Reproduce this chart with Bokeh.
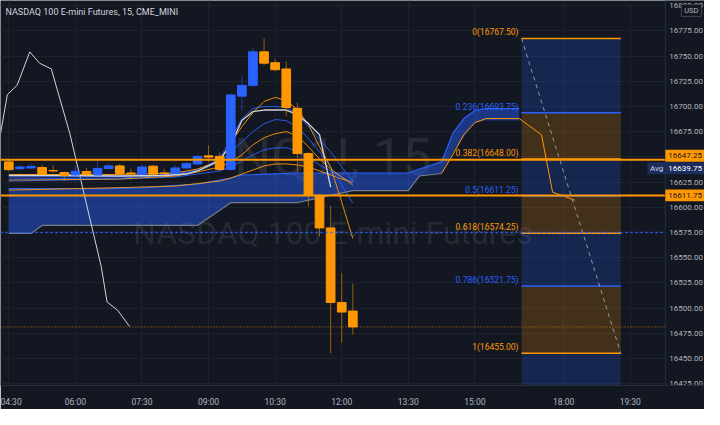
from bokeh.plotting import figure
from bokeh.models import FixedTicker, Label, Range1d, ColumnDataSource
from bokeh.embed import file_html
from bokeh.resources import INLINE
from bokeh.core.properties import value

# ---------------- data ----------------
time_tick_idx = [0, 6, 12, 18, 24, 30, 36, 42, 50, 56]
time_tick_labels = ["04:30", "06:00", "07:30", "09:00", "10:30", "12:00", "13:30", "15:00", "18:00", "19:30"]
price_ticks = [16425, 16450, 16475, 16500, 16525, 16550, 16575, 16600, 16625, 16650,
               16675, 16700, 16725, 16750, 16775, 16800]

bar_idx = list(range(32))
opens = [16645.0, 16638.25, 16639.0, 16639.5, 16636.5, 16634.5, 16632.0, 16635.5, 16632.0, 16638.5,
         16641.0, 16634.0, 16632.75, 16640.75, 16634.0, 16633.75, 16639.0, 16643.0, 16651.0, 16650.5,
         16637.5, 16710.25, 16721.0, 16754.25, 16743.5, 16737.25, 16698.25, 16653.25, 16611.75, 16579.5,
         16505.5, 16497.0]
highs = [16646.5, 16642.0, 16643.25, 16642.25, 16641.75, 16635.5, 16641.0, 16639.25, 16645.75, 16643.0,
         16643.0, 16638.25, 16642.25, 16642.0, 16638.25, 16642.0, 16645.0, 16652.0, 16661.5, 16654.25,
         16713.0, 16730.5, 16758.0, 16767.5, 16747.0, 16744.5, 16704.0, 16655.0, 16613.0, 16601.5,
         16534.75, 16524.25]
lows = [16636.5, 16637.0, 16638.0, 16632.0, 16633.75, 16626.0, 16631.0, 16631.0, 16631.0, 16637.5,
        16632.0, 16627.75, 16632.0, 16631.0, 16630.75, 16633.0, 16638.0, 16642.0, 16645.0, 16635.5,
        16636.0, 16695.75, 16720.0, 16741.0, 16735.0, 16690.5, 16635.5, 16600.75, 16571.25, 16455.0,
        16465.5, 16473.5]
closes = [16637.25, 16640.0, 16640.5, 16632.75, 16636.0, 16631.5, 16635.75, 16632.25, 16638.5, 16641.0,
          16633.5, 16633.25, 16640.0, 16632.75, 16633.25, 16639.0, 16643.25, 16650.5, 16649.75, 16637.5,
          16711.5, 16721.0, 16754.25, 16743.0, 16736.5, 16699.0, 16653.25, 16611.75, 16579.5, 16505.5,
          16496.0, 16481.25]

ma_idx = [0, 10, 15, 17, 19, 20, 21, 22, 23, 24, 25, 26, 27, 28, 29, 30, 31]
orange_fast = [16632.5, 16632.5, 16634, 16638, 16646, 16664, 16680, 16694, 16705, 16709, 16706, 16697, 16682, 16660, 16640, 16605, 16569]
blue_fast = [16630, 16630.5, 16633, 16637, 16648, 16668, 16688, 16698, 16700, 16700, 16699, 16692, 16680, 16667, 16655, 16640, 16626]
blue_mid = [16628, 16629, 16632, 16636, 16645, 16655, 16665, 16675, 16683, 16687, 16686, 16680, 16668, 16655, 16640, 16622, 16604]
orange_mid = [16627, 16628, 16631, 16635, 16640, 16645, 16652, 16662, 16669, 16673, 16675, 16671, 16660, 16648, 16638, 16630, 16622]
blue_slow = [16626, 16628, 16630, 16633, 16636, 16640, 16646, 16652, 16657, 16659, 16659, 16656, 16649, 16642, 16636, 16630, 16624]
orange_slow = [16617, 16619.5, 16621, 16623.5, 16626, 16629, 16633, 16637, 16641, 16643, 16643, 16642, 16640, 16636, 16632, 16628, 16625]

white_idx = [0, 5, 10, 14, 16, 17, 18, 19, 20, 21, 22, 23, 24, 25, 26, 27, 28, 29]
white_ma = [16631.5, 16631.5, 16631, 16631.5, 16633, 16636, 16641, 16647, 16662, 16686, 16695, 16696.5, 16696.5, 16696.5, 16692, 16683, 16672, 16620]

osc_idx = [-0.75, -0.13, 0.75, 1.89, 2.78, 3.83, 5.5, 8.33, 8.85, 9.82, 10.88]
osc_val = [16673.1, 16711.8, 16721.2, 16754.2, 16742.9, 16737.3, 16673.1, 16541.0, 16506.1, 16497.6, 16481.6]

band_idx = [0, 2, 3, 9, 12, 17, 20, 21, 26, 27, 31, 36, 37, 39, 40, 41, 42, 43, 46]
band_top = [16618.5, 16618.5, 16618.5, 16618.5, 16619.5, 16623, 16629, 16632, 16634, 16634, 16634, 16634,
            16638, 16645, 16673, 16688, 16696, 16698, 16698]
band_bot = [16574, 16574, 16582, 16582, 16582, 16582, 16604.5, 16604.5, 16604.5, 16607, 16616.5, 16616.5,
            16631, 16633.5, 16654, 16670, 16684, 16686, 16686]

fut_idx = [39, 40, 41, 42, 43, 46, 48, 49, 51]
fut_line = [16633.5, 16652, 16672, 16684, 16688, 16688, 16672, 16615, 16607]

fib_start, fib_end = 46.2, 55.15
fib_ratios = ["0", "0.236", "0.382", "0.5", "0.618", "0.786", "1"]
fib_prices = [16767.50, 16693.75, 16648.00, 16611.25, 16574.25, 16521.75, 16455.00]
fib_ext_price = 16370.0

hlines = [16647.25, 16611.75]
avg_price = 16639.75
dotted_blue = 16575.0
last_price = 16481.25

# ---------------- style / geometry ----------------
BG = "#131722"
BLUE = "#2962ff"
ORANGE = "#ff9800"
TXT = "#b2b5be"
GRID = "#1e222d"
FONT = "Roboto"

W, H = 704, 409
XAXIS_H = 20
x0, plot_end, x1 = -0.75, 59.16, 62.69     # plot area, then price-scale strip
y0, y1 = 16423.1, 16805.2
ppu = (H - XAXIS_H) / (y1 - y0)            # pixels per price unit
ppb = W / (x1 - x0)                        # pixels per bar
def dy(px):
    return px / ppu
def dx(px):
    return px / ppb

p = figure(width=W, height=H, output_backend="svg", toolbar_location=None,
           x_range=Range1d(x0, x1), y_range=Range1d(y0, y1), y_axis_location=None,
           background_fill_color=BG, border_fill_color=BG,
           min_border_left=0, min_border_top=0, min_border_right=0, min_border_bottom=XAXIS_H)
p.outline_line_color = None

p.xaxis.ticker = FixedTicker(ticks=time_tick_idx)
p.xaxis.major_label_overrides = {t: l for t, l in zip(time_tick_idx, time_tick_labels)}
p.xaxis.major_label_text_color = TXT
p.xaxis.major_label_text_font = FONT
p.xaxis.major_label_text_font_size = "8.5px"
p.xaxis.major_tick_line_color = None
p.xaxis.minor_tick_line_color = None
p.xaxis.axis_line_color = "#2a2e39"
p.xaxis.major_label_standoff = 5
p.xgrid.ticker = FixedTicker(ticks=time_tick_idx)
p.ygrid.ticker = FixedTicker(ticks=price_ticks)
p.xgrid.grid_line_color = GRID
p.ygrid.grid_line_color = GRID

# watermark
xc = (x0 + plot_end) / 2
p.add_layout(Label(x=xc, y=16649.5, text="NQ1!, 15", text_align="center", text_baseline="middle",
                   text_font=FONT, text_font_size="52px", text_color="#b2b5be", text_alpha=0.13,
                   level="underlay"))
p.add_layout(Label(x=xc, y=16574.0, text="NASDAQ 100 E-mini Futures", text_align="center",
                   text_baseline="middle", text_font=FONT, text_font_size="32px", text_color="#b2b5be",
                   text_alpha=0.13, level="underlay"))

# fib box fills
fib_bots = fib_prices[1:] + [fib_ext_price]
fill_cols = [BLUE, ORANGE, BLUE, ORANGE, BLUE, ORANGE, BLUE]
p.quad(left=fib_start, right=fib_end, top=fib_prices, bottom=fib_bots, fill_color=fill_cols,
       fill_alpha=0.2, line_color=None)

# cloud band
p.varea(x=band_idx, y1=band_bot, y2=band_top, fill_color=BLUE, fill_alpha=0.45)
p.line(band_idx, band_top, line_color=BLUE, line_width=1.2)
p.line(band_idx[:14], band_bot[:14], line_color="#787b86", line_width=1.2)
p.line(fut_idx, fut_line, line_color=ORANGE, line_width=1)

# white oscillator-like line at left
p.line(osc_idx, osc_val, line_color="#d1d4dc", line_width=1)

# moving averages
for vals, col in [(orange_slow, ORANGE), (blue_slow, BLUE), (orange_mid, ORANGE), (blue_mid, BLUE),
                  (blue_fast, BLUE), (orange_fast, ORANGE)]:
    p.line(ma_idx, vals, line_color=col, line_width=1, line_alpha=0.9)
p.line(white_idx, white_ma, line_color="#d1d4dc", line_width=1.3)

# fib level lines and labels
level_cols = [ORANGE, BLUE, ORANGE, BLUE, ORANGE, BLUE, ORANGE]
p.segment(x0=fib_start, x1=fib_end, y0=fib_prices, y1=fib_prices, line_color=level_cols, line_width=1.5)
fib_text = ["%s(%.2f)" % (r, v) for r, v in zip(fib_ratios, fib_prices)]
p.text(x=fib_start, y=fib_prices, text=fib_text, text_align="right", text_baseline="bottom",
       x_offset=-3, y_offset=-1, text_font=value(FONT), text_font_size="8.5px", text_color=level_cols)
p.segment(x0=fib_start, y0=fib_prices[0], x1=fib_end, y1=fib_prices[-1], line_color="#9598a1",
          line_width=1, line_dash="4 4")

# candles
src = ColumnDataSource(dict(
    x=bar_idx, o=opens, h=highs, l=lows, c=closes,
    top=[max(o, c) for o, c in zip(opens, closes)],
    bot=[min(o, c) for o, c in zip(opens, closes)],
    col=[ORANGE if c < o else BLUE for o, c in zip(opens, closes)],
))
p.segment(x0="x", x1="x", y0="h", y1="l", line_color="col", line_alpha=0.55, line_width=1, source=src)
p.vbar(x="x", width=0.78, top="top", bottom="bot", fill_color="col", line_color="col", source=src)

# horizontal lines across the plot area
p.segment(x0=x0, x1=plot_end, y0=hlines, y1=hlines, line_color=ORANGE, line_width=2)
p.segment(x0=x0, x1=plot_end, y0=dotted_blue, y1=dotted_blue, line_color=BLUE, line_width=1.5,
          line_dash="2 3")
p.segment(x0=x0, x1=plot_end, y0=last_price, y1=last_price, line_color=ORANGE, line_width=1,
          line_dash="1 2", line_alpha=0.7)

# title
p.add_layout(Label(x=5, x_units="screen", y=16793.5, text="NASDAQ 100 E-mini Futures, 15, CME_MINI",
                   text_baseline="middle", text_font=FONT, text_font_size="9px", text_color="#d1d4dc"))

# ---------- price scale strip (right) ----------
p.quad(left=plot_end, right=x1, top=y1, bottom=y0, fill_color=BG, line_color=None)
p.segment(x0=plot_end, x1=plot_end, y0=y0, y1=y1, line_color="#2a2e39", line_width=1)
p.text(x=plot_end, y=price_ticks, text=["%.2f" % t for t in price_ticks], x_offset=4,
       text_baseline="middle", text_font=value(FONT), text_font_size="8px", text_color=TXT)

# value boxes on the price scale: (price, shift px, bg, text colour)
box_prices = [hlines[0], avg_price, hlines[1]]
box_shift = [4, -1, 0]
box_bg = [ORANGE, "#1c2d5e", ORANGE]
box_txt = ["#131722", "#ffffff", "#131722"]
box_y = [bp + dy(s) for bp, s in zip(box_prices, box_shift)]
# "Avg" tag just left of the scale
p.rect(x=plot_end - dx(9), y=box_y[1], width=18, height=12, width_units="screen", height_units="screen",
       fill_color="#1c2d5e", line_color=None)
p.text(x=plot_end, y=box_y[1], text=["Avg"], x_offset=-2, text_align="right", text_baseline="middle",
       text_font=value(FONT), text_font_size="8px", text_color="#d1d4dc")
p.quad(left=plot_end, right=x1, top=[b + dy(6) for b in box_y], bottom=[b - dy(6) for b in box_y],
       fill_color=box_bg, line_color=None)
p.text(x=plot_end, y=box_y, text=["%.2f" % b for b in box_prices], x_offset=3, text_baseline="middle",
       text_font=value(FONT), text_font_size="8px", text_color=box_txt)
# currency tag
p.rect(x=plot_end + dx(26), y=y1 - dy(10), width=20, height=12, width_units="screen", height_units="screen",
       fill_color=BG, line_color="#434651", line_width=1)
p.text(x=plot_end + dx(26), y=y1 - dy(10), text=["USD"], text_align="center", text_baseline="middle",
       text_font=value(FONT), text_font_size="7.5px", text_color=TXT)

open("out.html", "w").write(file_html(p, INLINE))
